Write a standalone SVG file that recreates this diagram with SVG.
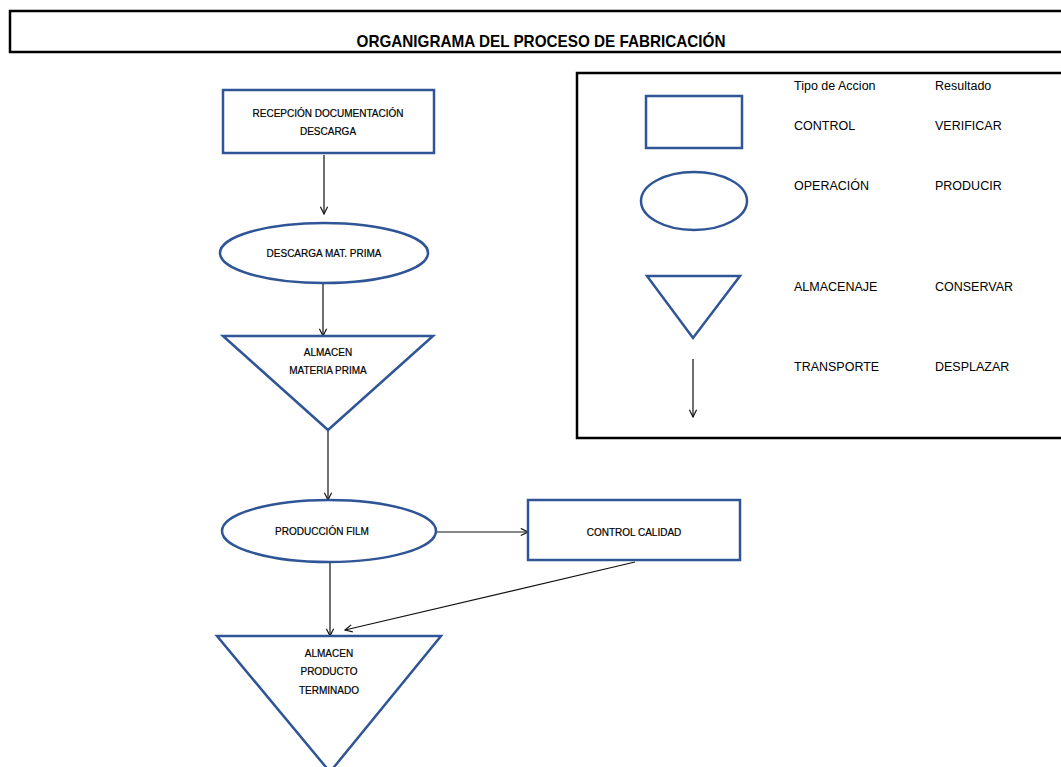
<svg xmlns="http://www.w3.org/2000/svg" width="1061" height="767" viewBox="0 0 1061 767">
<defs>
<style>
.shape{fill:#ffffff;stroke:#2F5597;stroke-width:2.5}
.frame{fill:none;stroke:#000000;stroke-width:2.5}
.lbl{font-family:"Liberation Sans",Arial,sans-serif;font-size:10px;fill:#000000;text-anchor:middle;stroke:#000000;stroke-width:0.2}
.leg{font-family:"Liberation Sans",Arial,sans-serif;font-size:12.5px;fill:#000000}
.conn{fill:none;stroke:#111111;stroke-width:1.2}
</style>
<marker id="arr" viewBox="0 0 10 10" refX="9" refY="5" markerWidth="9" markerHeight="9" orient="auto" markerUnits="userSpaceOnUse">
<path d="M1,1 L9,5 L1,9" fill="none" stroke="#111111" stroke-width="1.3"/>
</marker>
</defs>
<rect width="1061" height="767" fill="#ffffff"/>

<g id="title">
<rect class="frame" x="10" y="11" width="1060" height="41"/>
<text x="541" y="47" font-family="'Liberation Sans',Arial,sans-serif" font-size="17" font-weight="bold" text-anchor="middle" textLength="369" lengthAdjust="spacingAndGlyphs">ORGANIGRAMA DEL PROCESO DE FABRICACIÓN</text>
</g>

<g id="legend">
<rect class="frame" x="577" y="73" width="500" height="365"/>
<rect class="shape" x="646" y="96" width="96" height="52"/>
<ellipse class="shape" cx="694" cy="201" rx="53" ry="29"/>
<polygon class="shape" points="647,276 740,276 693,338"/>
<line class="conn" x1="693" y1="359" x2="693" y2="417" marker-end="url(#arr)"/>
<text class="leg" x="794" y="90">Tipo de Accion</text>
<text class="leg" x="935" y="90">Resultado</text>
<text class="leg" x="794" y="130">CONTROL</text>
<text class="leg" x="935" y="130">VERIFICAR</text>
<text class="leg" x="794" y="190">OPERACIÓN</text>
<text class="leg" x="935" y="190">PRODUCIR</text>
<text class="leg" x="794" y="291">ALMACENAJE</text>
<text class="leg" x="935" y="291">CONSERVAR</text>
<text class="leg" x="794" y="371">TRANSPORTE</text>
<text class="leg" x="935" y="371">DESPLAZAR</text>
</g>

<g id="connectors">
<line class="conn" x1="324" y1="155" x2="324" y2="214" marker-end="url(#arr)"/>
<line class="conn" x1="323" y1="284" x2="323" y2="336" marker-end="url(#arr)"/>
<line class="conn" x1="328" y1="430" x2="328" y2="500" marker-end="url(#arr)"/>
<line class="conn" x1="436" y1="532" x2="528" y2="532" marker-end="url(#arr)"/>
<line class="conn" x1="330" y1="562" x2="330" y2="636" marker-end="url(#arr)"/>
<line class="conn" x1="635" y1="562" x2="345" y2="630" marker-end="url(#arr)"/>
</g>

<g id="recepcion">
<rect class="shape" x="223" y="90" width="211" height="63"/>
<text class="lbl" x="328" y="117">RECEPCIÓN DOCUMENTACIÓN</text>
<text class="lbl" x="328" y="135">DESCARGA</text>
</g>

<g id="descarga">
<ellipse class="shape" cx="324" cy="253" rx="104" ry="30"/>
<text class="lbl" x="324" y="257">DESCARGA MAT. PRIMA</text>
</g>

<g id="almacen-mp">
<polygon class="shape" points="223,336 433,336 328,430"/>
<text class="lbl" x="328" y="356">ALMACEN</text>
<text class="lbl" x="328" y="374">MATERIA PRIMA</text>
</g>

<g id="produccion">
<ellipse class="shape" cx="329" cy="531" rx="107" ry="31"/>
<text class="lbl" x="322" y="535">PRODUCCIÓN FILM</text>
</g>

<g id="control">
<rect class="shape" x="528" y="500" width="212" height="60"/>
<text class="lbl" x="634" y="536">CONTROL CALIDAD</text>
</g>

<g id="almacen-pt">
<polygon class="shape" points="217,636 441,636 330,772"/>
<text class="lbl" x="329" y="657">ALMACEN</text>
<text class="lbl" x="329" y="675">PRODUCTO</text>
<text class="lbl" x="329" y="694">TERMINADO</text>
</g>
</svg>
